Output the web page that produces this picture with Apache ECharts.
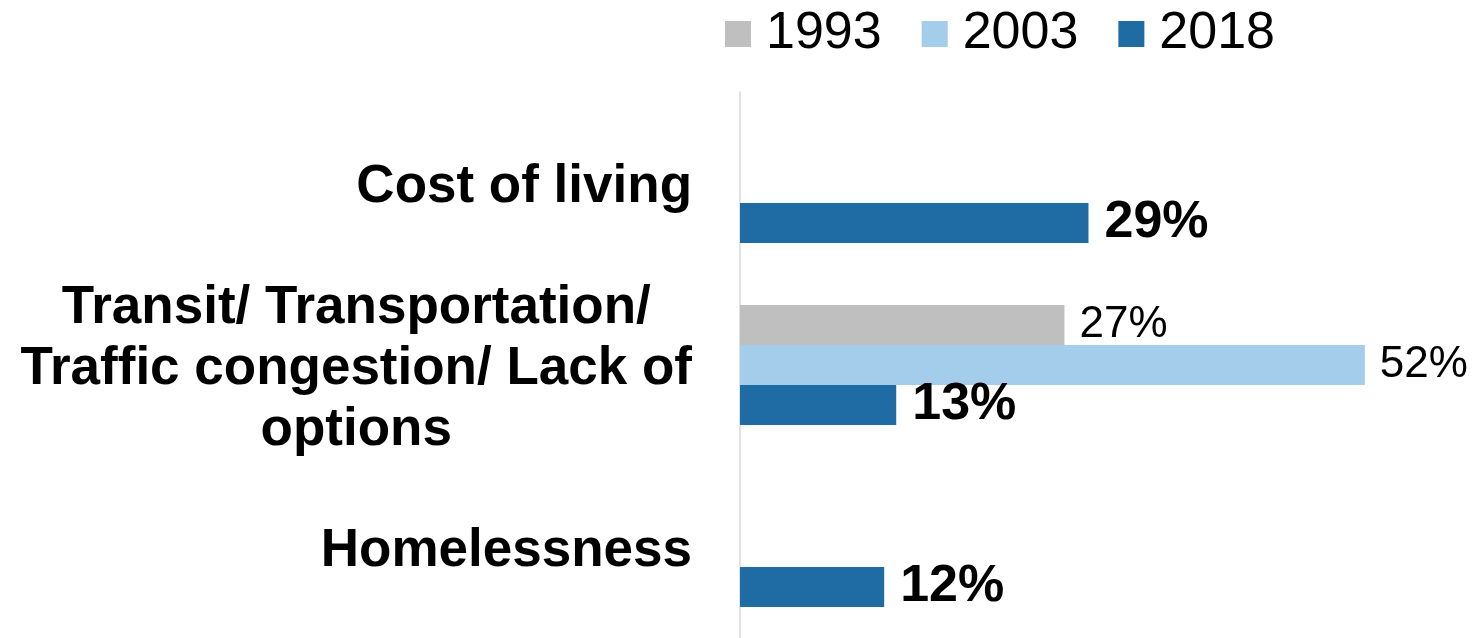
<!DOCTYPE html>
<html>
<head>
<meta charset="utf-8">
<script src="https://cdn.jsdelivr.net/npm/echarts@6/dist/echarts.min.js"></script>
<style>html,body{margin:0;padding:0;background:#fff}#c{width:1481px;height:638px}</style>
</head>
<body>
<div id="c"></div>
<script>
const categories = ['Cost of living', 'Transit/ Transportation/\nTraffic congestion/ Lack of\noptions', 'Homelessness'];
const seriesNames = ['1993', '2003', '2018'];
const values1993 = [null, 27, null];
const values2003 = [null, 52, null];
const values2018 = [29, 13, 12];

const FONT = "'Liberation Sans', Arial, sans-serif";
const chart = echarts.init(document.getElementById('c'));
function lbl(bold) {
  return {
    show: true, position: 'right', distance: bold ? 16 : 15,
    formatter: p => p.value == null ? '' : p.value + '%',
    fontFamily: FONT, fontSize: bold ? 52 : 44, fontWeight: bold ? 'bold' : 'normal', color: '#000'
  };
}
chart.setOption({
  animation: false,
  color: ['#BFBFBF', '#A4CDEC', '#1F6BA3'],
  legend: {
    left: 720, top: 3, itemWidth: 26, itemHeight: 26, itemGap: 40, icon: 'rect',
    textStyle: { fontFamily: FONT, fontSize: 52, color: '#000', padding: [0, 0, 0, 10] },
    data: seriesNames
  },
  grid: { left: 740, right: 20, top: 92, bottom: 0, containLabel: false },
  xAxis: { type: 'value', min: 0, max: 60, show: false },
  yAxis: {
    type: 'category', inverse: true, data: categories,
    axisLine: { show: true, lineStyle: { color: '#D9D9D9', width: 1.5 } },
    axisTick: { show: false },
    axisLabel: {
      margin: 48, color: '#000', align: 'right', padding: [9, 0, 0, 0],
      formatter: v => v.split('\n').map(s => '{c|' + s + '}').join('\n'),
      rich: { c: { fontFamily: FONT, fontSize: 53, fontWeight: 'bold', lineHeight: 61, align: 'center', color: '#000' } }
    }
  },
  series: [
    { name: seriesNames[0], type: 'bar', data: values1993, barWidth: 40, barGap: 0, label: lbl(false) },
    { name: seriesNames[1], type: 'bar', data: values2003, barWidth: 40, barGap: 0, label: lbl(false) },
    { name: seriesNames[2], type: 'bar', data: values2018, barWidth: 40, barGap: 0, label: lbl(true) }
  ]
});
</script>
</body>
</html>
